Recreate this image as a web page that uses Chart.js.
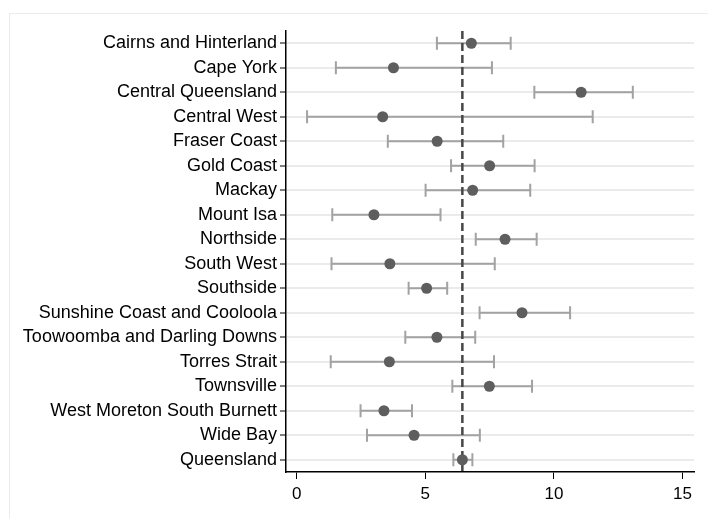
<!DOCTYPE html>
<html>
<head>
<meta charset="utf-8">
<script src="https://cdn.jsdelivr.net/npm/chart.js@4/dist/chart.umd.min.js"></script>
<style>
  html, body { margin: 0; padding: 0; background: #fff; }
  #wrap { width: 708px; height: 518px; }
</style>
</head>
<body>
<div id="wrap"><canvas id="grafica"></canvas></div>
<script>
const regiones = ['Cairns and Hinterland', 'Cape York', 'Central Queensland', 'Central West',
  'Fraser Coast', 'Gold Coast', 'Mackay', 'Mount Isa', 'Northside', 'South West', 'Southside',
  'Sunshine Coast and Cooloola', 'Toowoomba and Darling Downs', 'Torres Strait', 'Townsville',
  'West Moreton South Burnett', 'Wide Bay', 'Queensland'];
const estimacion = [6.79, 3.76, 11.06, 3.34, 5.46, 7.50, 6.84, 3.00, 8.10, 3.62, 5.05, 8.76, 5.45, 3.60, 7.49, 3.39, 4.56, 6.44];
const inferior = [5.45, 1.52, 9.24, 0.40, 3.54, 6.00, 5.01, 1.38, 6.96, 1.35, 4.35, 7.11, 4.22, 1.32, 6.05, 2.48, 2.73, 6.09];
const superior = [8.32, 7.59, 13.07, 11.51, 8.03, 9.25, 9.08, 5.59, 9.33, 7.70, 5.85, 10.63, 6.94, 7.67, 9.15, 4.48, 7.12, 6.83];
const ticksX = [0, 5, 10, 15];
const referencia = 6.44;

// marco gris claro alrededor del grafico
const marco = {
  id: 'marco',
  beforeDraw(chart) {
    const ctx = chart.ctx;
    ctx.save();
    ctx.strokeStyle = '#ececec';
    ctx.lineWidth = 1;
    ctx.strokeRect(9.5, 13.5, 720, 540);
    ctx.restore();
  }
};

// barras de intervalo y linea de referencia
const intervalos = {
  id: 'intervalos',
  beforeDatasetsDraw(chart) {
    const ctx = chart.ctx;
    const x = chart.scales.x;
    const y = chart.scales.y;
    const area = chart.chartArea;
    ctx.save();
    ctx.strokeStyle = '#a2a2a2';
    ctx.lineWidth = 2;
    regiones.forEach((r, i) => {
      const py = y.getPixelForValue(i);
      const x1 = x.getPixelForValue(inferior[i]);
      const x2 = x.getPixelForValue(superior[i]);
      ctx.beginPath();
      ctx.moveTo(x1, py); ctx.lineTo(x2, py);
      ctx.moveTo(x1, py - 6.5); ctx.lineTo(x1, py + 6.5);
      ctx.moveTo(x2, py - 6.5); ctx.lineTo(x2, py + 6.5);
      ctx.stroke();
    });
    const rx = x.getPixelForValue(referencia);
    ctx.strokeStyle = '#474747';
    ctx.lineWidth = 2.5;
    ctx.setLineDash([8, 4]);
    ctx.beginPath();
    ctx.moveTo(rx, area.top);
    ctx.lineTo(rx, area.bottom);
    ctx.stroke();
    ctx.restore();
  }
};

const ctx = document.getElementById('grafica').getContext('2d');
new Chart(ctx, {
  type: 'scatter',
  data: {
    labels: regiones,
    datasets: [{
      data: estimacion.map((v, i) => ({ x: v, y: regiones[i] })),
      backgroundColor: '#5e5e5e',
      borderWidth: 0,
      pointRadius: 5.5,
      pointHoverRadius: 5.5
    }]
  },
  options: {
    responsive: true,
    maintainAspectRatio: false,
    animation: false,
    layout: { padding: { left: 0, right: 14, top: 31, bottom: 0 } },
    plugins: { legend: { display: false }, tooltip: { enabled: false } },
    scales: {
      x: {
        type: 'linear',
        min: -0.42,
        max: 15.45,
        afterBuildTicks(scale) { scale.ticks = ticksX.map(v => ({ value: v })); },
        afterFit(scale) { scale.height = 46; },
        grid: { drawOnChartArea: false, tickLength: 7, tickColor: '#000', tickWidth: 1 },
        border: { color: '#000', width: 1.5 },
        ticks: { color: '#000', font: { family: 'Liberation Sans', size: 17 }, padding: 5 }
      },
      y: {
        type: 'category',
        labels: regiones,
        offset: true,
        afterFit(scale) { scale.width = 286; },
        grid: { offset: false, color: '#ebebeb', lineWidth: 2, tickLength: 6, tickColor: '#000', tickWidth: 1 },
        border: { color: '#000', width: 1.5 },
        ticks: { color: '#000', font: { family: 'Liberation Sans', size: 18 }, padding: 3, autoSkip: false }
      }
    }
  },
  plugins: [marco, intervalos]
});
</script>
</body>
</html>
